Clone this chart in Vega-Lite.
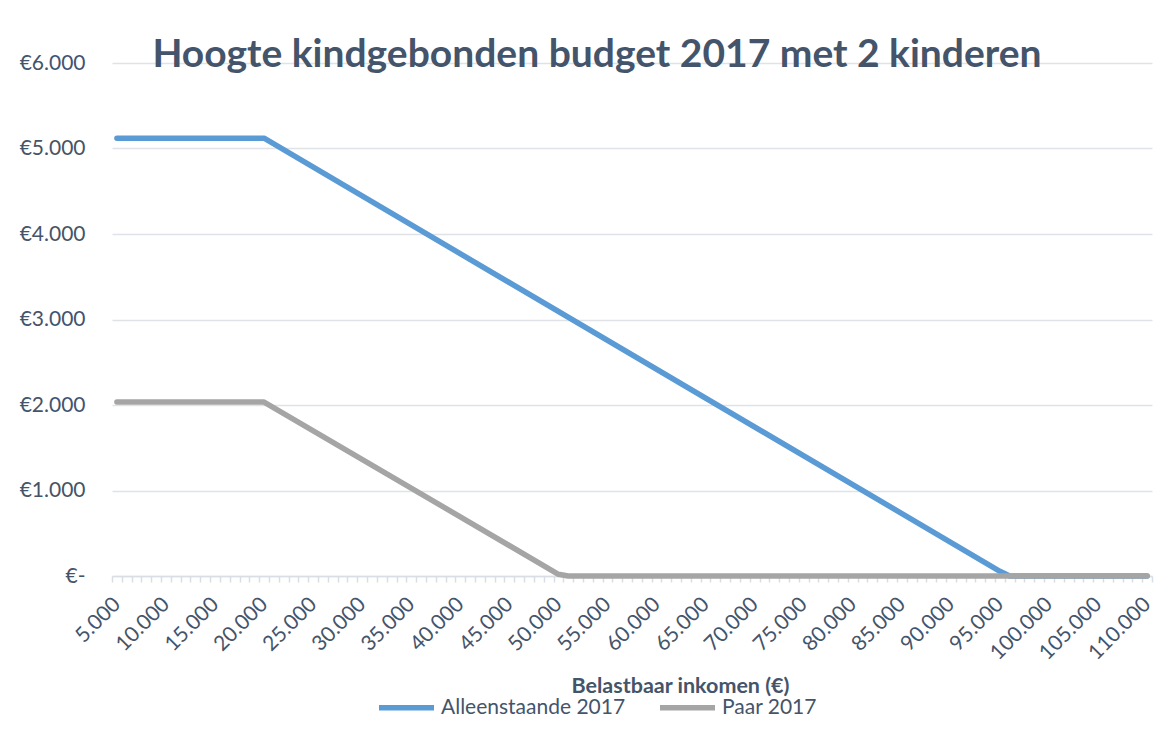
{
  "$schema": "https://vega.github.io/schema/vega-lite/v6.json",
  "autosize": "none",
  "width": 1040,
  "height": 513,
  "padding": {"left": 112, "top": 63, "right": 21, "bottom": 162},
  "background": "white",
  "title": {
    "text": "Hoogte kindgebonden budget 2017 met 2 kinderen",
    "font": "Lato",
    "fontSize": 39,
    "fontWeight": "bold",
    "color": "#44546A",
    "anchor": "middle",
    "dx": -35,
    "offset": -54,
    "baseline": "alphabetic"
  },
  "config": {
    "view": {"stroke": null}
  },
  "data": {
    "values": [
      {"serie": "Alleenstaande 2017", "inkomen": 5000, "bedrag": 5120},
      {"serie": "Alleenstaande 2017", "inkomen": 20000, "bedrag": 5120},
      {"serie": "Alleenstaande 2017", "inkomen": 95000, "bedrag": 55},
      {"serie": "Alleenstaande 2017", "inkomen": 96000, "bedrag": 0},
      {"serie": "Alleenstaande 2017", "inkomen": 110000, "bedrag": 0},
      {"serie": "Paar 2017", "inkomen": 5000, "bedrag": 2035},
      {"serie": "Paar 2017", "inkomen": 20000, "bedrag": 2035},
      {"serie": "Paar 2017", "inkomen": 50000, "bedrag": 20},
      {"serie": "Paar 2017", "inkomen": 51000, "bedrag": 0},
      {"serie": "Paar 2017", "inkomen": 110000, "bedrag": 0}
    ]
  },
  "mark": {"type": "line", "strokeWidth": 5.5, "strokeCap": "round", "strokeJoin": "round"},
  "encoding": {
    "x": {
      "field": "inkomen",
      "type": "quantitative",
      "scale": {"domain": [4500, 110500], "nice": false, "zero": false},
      "axis": {
        "tickCount": 212,
        "grid": false,
        "domainColor": "#D9DEE5",
        "domainWidth": 1.5,
        "tickColor": "#D9DEE5",
        "tickWidth": 1.5,
        "tickSize": 6,
        "tickOpacity": {"condition": {"test": "datum.value % 1000 == 500", "value": 1}, "value": 0},
        "labelExpr": "datum.value % 5000 == 0 ? replace(format(datum.value, ',.0f'), ',', '.') : ''",
        "labelAngle": -45,
        "labelAlign": "right",
        "labelBaseline": "middle",
        "labelFont": "Lato",
        "labelFontSize": 21,
        "labelColor": "#44546A",
        "labelPadding": 19,
        "labelOverlap": false,
        "labelFlush": false,
        "labelBound": false,
        "title": "Belastbaar inkomen (€)",
        "titleFont": "Lato",
        "titleFontSize": 21.5,
        "titleFontWeight": "bold",
        "titleColor": "#44546A",
        "titleX": 568,
        "titleY": 116,
        "titleBaseline": "alphabetic"
      }
    },
    "y": {
      "field": "bedrag",
      "type": "quantitative",
      "scale": {"domain": [0, 6000], "nice": false},
      "axis": {
        "values": [0, 1000, 2000, 3000, 4000, 5000, 6000],
        "domain": false,
        "ticks": false,
        "gridColor": "#DFE3E8",
        "gridWidth": 1.5,
        "labelExpr": "datum.value == 0 ? '€-' : '€' + replace(format(datum.value, ',.0f'), ',', '.')",
        "labelFont": "Lato",
        "labelFontSize": 21,
        "labelColor": "#44546A",
        "labelPadding": 27,
        "title": null
      }
    },
    "color": {
      "field": "serie",
      "type": "nominal",
      "scale": {"domain": ["Alleenstaande 2017", "Paar 2017"], "range": ["#5B9BD5", "#A5A5A5"]},
      "legend": {
        "orient": "none",
        "legendX": 264,
        "legendY": 614,
        "direction": "horizontal",
        "title": null,
        "symbolType": "stroke",
        "symbolSize": 3025,
        "symbolStrokeWidth": 5.5,
        "labelFont": "Lato",
        "labelFontSize": 21,
        "labelColor": "#44546A",
        "labelLimit": 400,
        "labelOffset": 4,
        "columnPadding": 23
      }
    }
  }
}
